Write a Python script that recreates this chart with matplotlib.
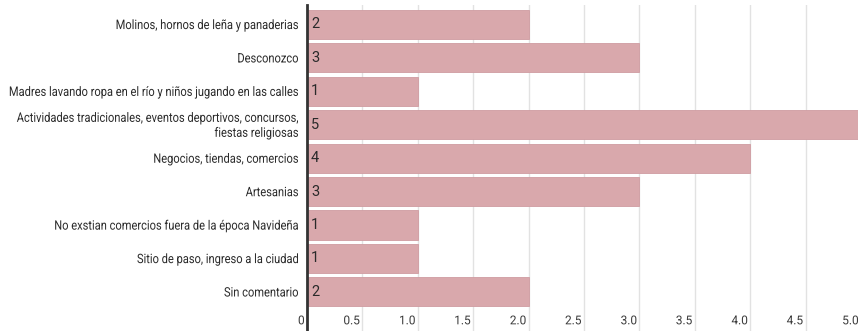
import matplotlib
matplotlib.use("Agg")
import matplotlib.pyplot as plt
from matplotlib.textpath import TextPath
from matplotlib.patches import PathPatch
from matplotlib.font_manager import FontProperties
from matplotlib.transforms import Affine2D

# data
categories = [
    "Molinos, hornos de leña y panaderias",
    "Desconozco",
    "Madres lavando ropa en el río y niños jugando en las calles",
    "Actividades tradicionales, eventos deportivos, concursos,\nfiestas religiosas",
    "Negocios, tiendas, comercios",
    "Artesanias",
    "No exstian comercios fuera de la época Navideña",
    "Sitio de paso, ingreso a la ciudad",
    "Sin comentario",
]
values = [2, 3, 1, 5, 4, 3, 1, 1, 2]
xticks = [0, 0.5, 1.0, 1.5, 2.0, 2.5, 3.0, 3.5, 4.0, 4.5, 5.0]
xtick_labels = ["0", "0.5", "1.0", "1.5", "2.0", "2.5", "3.0", "3.5", "4.0", "4.5", "5.0"]

bar_color = "#d9a8ac"
text_color = "#2a2a2a"
font = FontProperties(family="Roboto")

fig = plt.figure(figsize=(8.58, 3.31), dpi=100)
ax = fig.add_axes([307 / 858, 0, (861 - 307) / 858, 326 / 331])
ax.set_xlim(0, 5)
ax.set_ylim(8 + 1.17, -0.58)
k = fig.dpi / 72.0


def narrow_text(x, y, s, size, dx=0.0, ha="right", color=text_color, sx=0.85, gap=15):
    # condensed-looking text: a text path squeezed horizontally, placed in pixels
    px, py = ax.transData.transform((x, y))
    lines = s.split("\n")
    n = len(lines)
    for i, line in enumerate(lines):
        tp = TextPath((0, 0), line, size=size, prop=font)
        w = tp.get_extents().x1 * sx * k
        cy = py + ((n - 1) / 2 - i) * gap
        base = cy - 0.711 * size * k / 2
        ox = px + dx - w if ha == "right" else px + dx
        tr = Affine2D().scale(sx * k, k).translate(ox, base)
        fig.add_artist(PathPatch(tp, transform=tr, facecolor=color,
                                 edgecolor="none", zorder=5))


ypos = list(range(len(categories)))
ax.barh(ypos, values, height=0.87, color=bar_color, edgecolor="#cf9ca1",
        linewidth=0.6, zorder=2)

# gridlines
for t in xticks[1:]:
    ax.axvline(t, color="#e2e2e2", linewidth=1, zorder=1)

# value labels
for y, v in zip(ypos, values):
    ax.text(0.035, y, str(v), ha="left", va="center", fontsize=10.5,
            family="Roboto", color=text_color, zorder=3)

# category labels
for y, c in zip(ypos, categories):
    narrow_text(0, y, c, 9.4, dx=-9)

# x tick labels, drawn inside the axis area below the bars
for t, lab in zip(xticks, xtick_labels):
    narrow_text(t, 8.84, lab, 8.8, dx=-3, color="#3a3a3a", sx=0.97)

ax.set_xticks([])
ax.set_yticks([])
for s in ["top", "right", "bottom"]:
    ax.spines[s].set_visible(False)
ax.spines["left"].set_color("#333333")
ax.spines["left"].set_linewidth(2)
ax.spines["left"].set_zorder(4)

fig.savefig("out.png", dpi=100)
